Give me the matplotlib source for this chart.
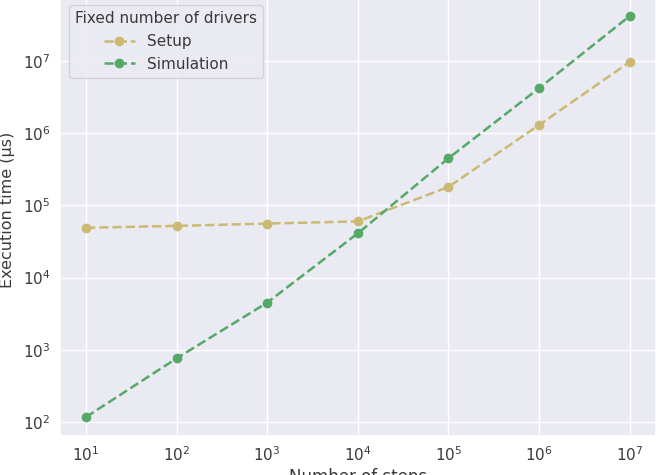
import matplotlib
matplotlib.use("Agg")
import matplotlib.pyplot as plt
import seaborn as sns

steps = [1e1, 1e2, 1e3, 1e4, 1e5, 1e6, 1e7]
setup_us = [4.9e4, 5.2e4, 5.6e4, 6.0e4, 1.8e5, 1.3e6, 9.7e6]
simulation_us = [1.17e2, 7.6e2, 4.5e3, 4.1e4, 4.5e5, 4.2e6, 4.2e7]

sns.set_theme(style="darkgrid")
plt.rcParams['font.family'] = ['DejaVu Sans']
text_color = '#3a3a3a'

fig = plt.figure(figsize=(6.56, 4.75), dpi=100)
ax = fig.add_axes([60/656, 1 - 436/475, 1 - 60/656, 436/475 + 4/475])

ax.plot(steps, setup_us, linestyle='--', marker='o', color='#ccb974', label='Setup',
        linewidth=1.8, markersize=6)
ax.plot(steps, simulation_us, linestyle='--', marker='o', color='#55a868', label='Simulation',
        linewidth=1.8, markersize=6)
ax.set_xscale('log')
ax.set_yscale('log')
ax.set_xlim(10**0.714, 10**7.29)
ax.set_ylim(10**1.806, 10**7.9)
ax.tick_params(labelsize=11, pad=0.8, labelcolor=text_color)
ax.set_xlabel('Number of steps', fontsize=12, color=text_color, labelpad=2.5)
ax.set_ylabel('Execution time (µs)', fontsize=11.5, color=text_color)
ax.yaxis.set_label_coords(-0.076, 0.515)
leg = ax.legend(title='Fixed number of drivers', loc='upper left', fontsize=11,
                title_fontsize=11, borderaxespad=0.6)
for t in leg.get_texts():
    t.set_color(text_color)
leg.get_title().set_color(text_color)

fig.savefig('out.png', dpi=100)
